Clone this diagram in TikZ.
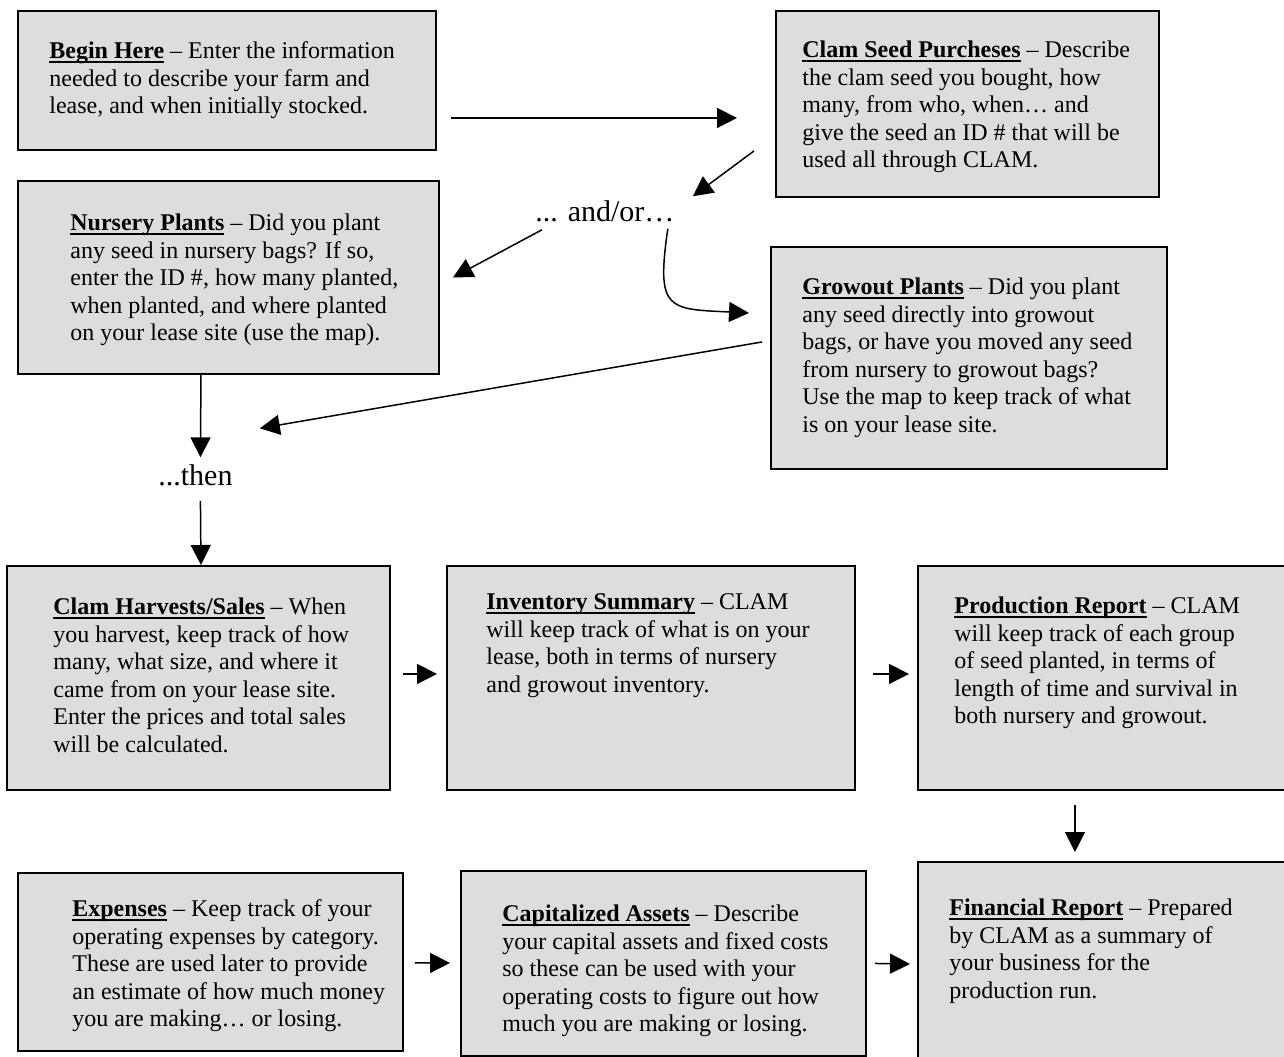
\documentclass[tikz,border=0pt]{standalone}
\usepackage{fontspec}
\setmainfont{Liberation Serif}
\usetikzlibrary{arrows.meta}
\definecolor{boxgray}{HTML}{DDDDDD}
\newcommand{\hd}[1]{\setbox0=\hbox{\bfseries #1}\rlap{\rule[-2.4pt]{\wd0}{1.1pt}}\box0\relax}

\begin{document}
\begin{tikzpicture}[>={Triangle[length=0.4cm,width=0.4cm]},
  box/.style={draw=black,line width=1.1pt,fill=boxgray,anchor=north west,inner sep=0pt},
  boxtext/.style={anchor=north west,align=left,inner sep=0pt,font=\fontsize{13.66}{15.65}\selectfont},
  link/.style={anchor=base west,inner sep=0pt,font=\fontsize{17.07}{20}\selectfont},
  arr/.style={->,line width=0.85pt}]
\useasboundingbox (0,0) rectangle (25.68,-21.14);
% boxes
\node[box,minimum width=8.36cm,minimum height=2.78cm] (begin) at (0.34,-0.20) {};
\node[box,minimum width=7.66cm,minimum height=3.72cm] (seed) at (15.50,-0.20) {};
\node[box,minimum width=8.42cm,minimum height=3.86cm] (nursery) at (0.34,-3.60) {};
\node[box,minimum width=7.92cm,minimum height=4.44cm] (growout) at (15.40,-4.92) {};
\node[box,minimum width=7.66cm,minimum height=4.48cm] (harvest) at (0.12,-11.30) {};
\node[box,minimum width=8.16cm,minimum height=4.48cm] (inventory) at (8.92,-11.30) {};
\node[box,minimum width=7.46cm,minimum height=4.48cm] (production) at (18.34,-11.30) {};
\node[box,minimum width=7.70cm,minimum height=3.56cm] (expenses) at (0.34,-17.44) {};
\node[box,minimum width=8.10cm,minimum height=3.70cm] (assets) at (9.20,-17.40) {};
\node[box,minimum width=7.46cm,minimum height=4.08cm] (financial) at (18.34,-17.22) {};
% box texts
\node[boxtext] (begin_t) at (0.98,-0.83) {\hd{Begin Here} -- Enter the information\\needed to describe your farm and\\lease, and when initially stocked.};
\node[boxtext] (seed_t) at (16.04,-0.81) {\hd{Clam Seed Purcheses} -- Describe\\the clam seed you bought, how\\many, from who, when… and\\give the seed an ID \# that will be\\used all through CLAM.};
\node[boxtext] (nursery_t) at (1.40,-4.27) {\hd{Nursery Plants} -- Did you plant\\any seed in nursery bags? If so,\\enter the ID \#, how many planted,\\when planted, and where planted\\on your lease site (use the map).};
\node[boxtext] (growout_t) at (16.04,-5.55) {\hd{Growout Plants} -- Did you plant\\any seed directly into growout\\bags, or have you moved any seed\\from nursery to growout bags?\\Use the map to keep track of what\\is on your lease site.};
\node[boxtext] (harvest_t) at (1.06,-11.95) {\hd{Clam Harvests/Sales} -- When\\you harvest, keep track of how\\many, what size, and where it\\came from on your lease site.\\Enter the prices and total sales\\will be calculated.};
\node[boxtext] (inventory_t) at (9.72,-11.87) {\hd{Inventory Summary} -- CLAM\\will keep track of what is on your\\lease, both in terms of nursery\\and growout inventory.};
\node[boxtext] (production_t) at (19.08,-11.93) {\hd{Production Report} -- CLAM\\will keep track of each group\\of seed planted, in terms of\\length of time and survival in\\both nursery and growout.};
\node[boxtext] (expenses_t) at (1.44,-17.99) {\hd{Expenses} -- Keep track of your\\operating expenses by category.\\These are used later to provide\\an estimate of how much money\\you are making… or losing.};
\node[boxtext] (assets_t) at (10.04,-18.09) {\hd{Capitalized Assets} -- Describe\\your capital assets and fixed costs\\so these can be used with your\\operating costs to figure out how\\much you are making or losing.};
\node[boxtext] (financial_t) at (18.98,-17.97) {\hd{Financial Report} -- Prepared\\by CLAM as a summary of\\your business for the\\production run.};
% in-between words
\node[link] (andor) at (10.70,-4.44) {... and/or…};
\node[link] (then) at (3.16,-9.72) {...then};
% arrows
\draw[arr] ([shift={(0.28,-0.75)}]begin.east) -- ([shift={(-0.76,-0.28)}]seed.west);
\draw[arr] ([shift={(-0.42,0.94)}]seed.south west) -- ([shift={(0.36,0.09)}]andor.north east);
\draw[arr] ([shift={(0.14,-0.14)}]andor.south west) -- ([shift={(0.26,0)}]nursery.east);
\draw[arr] ([shift={(-0.14,-0.12)}]andor.south east) .. controls +(-0.24,-1.64) and +(-1.62,0.08) .. ([shift={(-0.42,0.90)}]growout.west);
\draw[arr] ([shift={(-0.16,0.32)}]growout.west) -- ([shift={(0.54,0.73)}]then.north east);
\draw[arr] ([xshift=-0.55cm]nursery.south) -- ([shift={(0.10,0.15)}]then.north);
\draw[arr] ([shift={(0.10,-0.28)}]then.south) -- ([shift={(0.05,0)}]harvest.north);
\draw[arr] ([shift={(0.24,0.08)}]harvest.east) -- ([shift={(-0.18,0.08)}]inventory.west);
\draw[arr] ([shift={(0.34,0.08)}]inventory.east) -- ([shift={(-0.16,0.08)}]production.west);
\draw[arr] ([shift={(-0.59,-0.28)}]production.south) -- ([shift={(-0.59,0.18)}]financial.north);
\draw[arr] ([shift={(0.22,-0.02)}]expenses.east) -- ([shift={(-0.20,0.01)}]assets.west);
\draw[arr] ([shift={(0.16,0)}]assets.east) -- ([shift={(-0.14,0)}]financial.west);
\end{tikzpicture}
\end{document}
